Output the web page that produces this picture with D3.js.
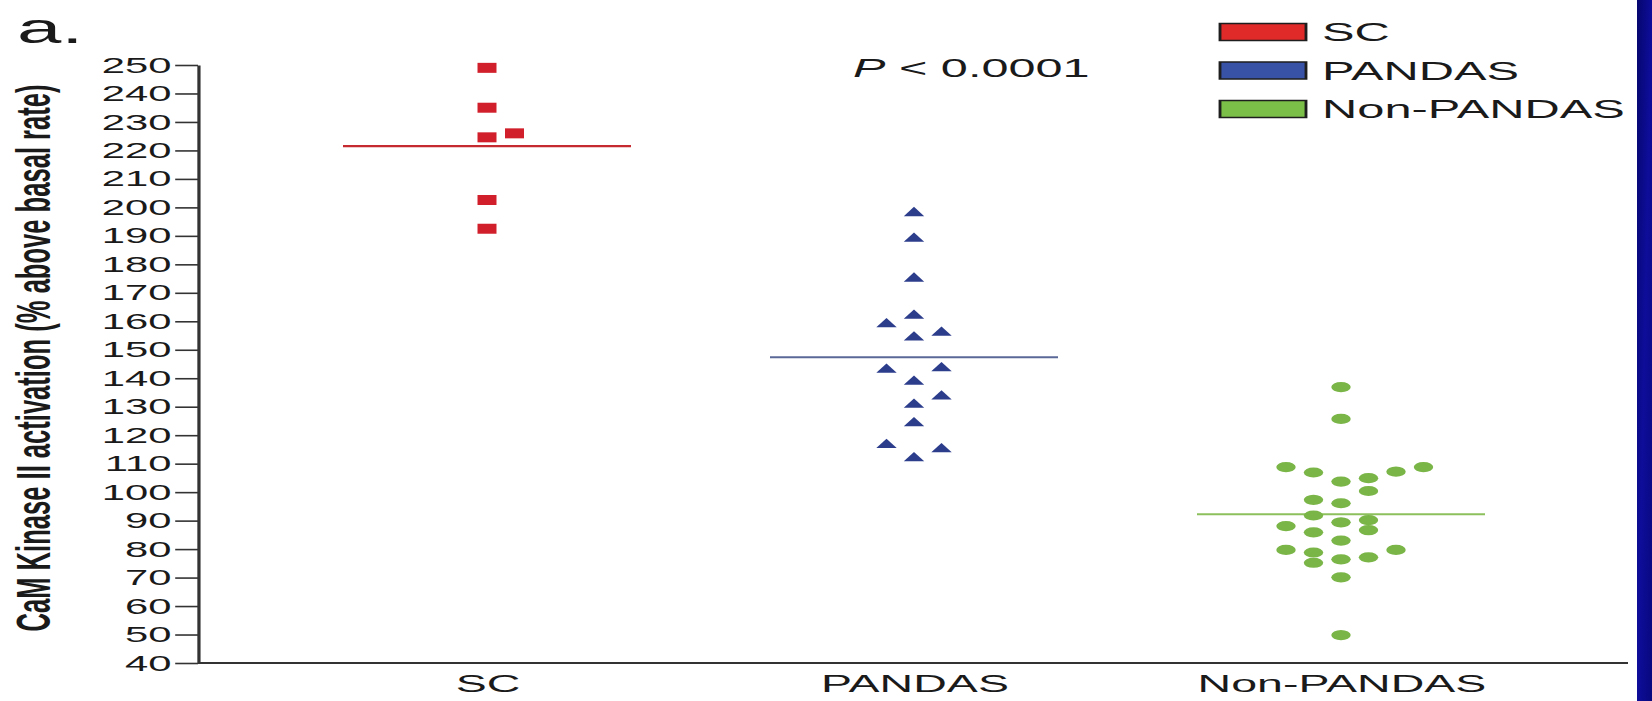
<!DOCTYPE html>
<html><head><meta charset="utf-8">
<script src="https://cdn.jsdelivr.net/npm/d3@7"></script>
<style>html,body{margin:0;padding:0;background:#fff;overflow:hidden}</style>
</head><body>
<svg id="chart" width="1652" height="701"></svg>
<script>
// ---- data ----
const categories = ["SC", "PANDAS", "Non-PANDAS"];
const yTickValues = [40, 50, 60, 70, 80, 90, 100, 110, 120, 130, 140, 150, 160, 170, 180, 190, 200, 210, 220, 230, 240, 250];
const scValues = [249, 235, 224.6, 226, 202.6, 192.5];
const scColumns = [0, 0, 0, 1, 0, 0];
const pandasValues = [198, 189, 175, 162, 159, 156, 154.3, 143, 143.5, 138.8, 133.6, 130.7, 124.2, 116.6, 115.1, 111.9];
const pandasColumns = [0, 0, 0, 0, -1, 1, 0, -1, 1, 0, 1, 0, 0, -1, 1, 0];
const nonPandasValues = [136.9, 125.7, 108.8, 108.8, 106.9, 107.2, 103.7, 104.9, 100.4, 97.3, 96.1, 91.8, 89.4, 90.2, 88.1, 85.9, 86.7, 83, 79.7, 78.8, 79.7, 75.2, 76.4, 77.1, 70.1, 49.8];
const nonPandasColumns = [0, 0, -2, 3, -1, 2, 0, 1, 1, -1, 0, -1, 0, 1, -2, -1, 1, 0, -2, -1, 2, -1, 0, 1, 0, 0];
const meanValues = [221.5, 147.4, 92.2];
const yAxisTitle = "CaM Kinase II activation (% above basal rate)";
const pValueText = "< 0.0001";
const panelLabel = "a.";

// ---- styles ----
const markColors = ["#d1202b", "#2c3d8c", "#7ab547"];
const meanColors = ["#c42a30", "#5a6898", "#8cc05c"];
const meanWidths = [2.4, 2, 2];
const legendColors = ["#e02a2a", "#3853a5", "#7cbf48"];
const FONT = "'Liberation Sans', Arial, Helvetica, sans-serif";
const SX = 1.9; // the whole figure is stretched horizontally

const svg = d3.select("#chart");
svg.append("rect").attr("width", 1652).attr("height", 701).attr("fill", "#ffffff");

// blue slide strip on the right
const defs = svg.append("defs");
const grad = defs.append("linearGradient").attr("id", "strip").attr("x1", 0).attr("y1", 0).attr("x2", 1).attr("y2", 1);
grad.append("stop").attr("offset", "0%").attr("stop-color", "#06066e");
grad.append("stop").attr("offset", "50%").attr("stop-color", "#0d0d9a");
grad.append("stop").attr("offset", "100%").attr("stop-color", "#08087e");
svg.append("rect").attr("x", 1637).attr("y", 0).attr("width", 15).attr("height", 701).attr("fill", "url(#strip)");

const g = svg.append("g").attr("transform", `scale(${SX},1)`);

const x = d3.scalePoint().domain(categories).range([487 / SX, 1341 / SX]);
const y = d3.scaleLinear().domain([40, 250]).range([663, 65]);
const COL = 27.5 / SX;
const axisX = 198 / SX;

// y axis
const yAxis = g.append("g").attr("transform", `translate(${axisX},0)`)
  .call(d3.axisLeft(y).tickValues(yTickValues).tickSize(12).tickPadding(2).tickSizeOuter(0));
yAxis.select(".domain").attr("stroke", "#333").attr("stroke-width", 1.7);
yAxis.selectAll(".tick line").attr("stroke", "#333").attr("stroke-width", 1.6);
yAxis.selectAll(".tick text").attr("font-family", FONT).attr("font-size", 22).attr("fill", "#1a1a1a");

// x axis line
g.append("line").attr("x1", axisX).attr("x2", 1628 / SX).attr("y1", y(40)).attr("y2", y(40))
  .attr("stroke", "#333").attr("stroke-width", 2);
const xAxis = g.append("g").attr("transform", `translate(0,${y(40)})`)
  .call(d3.axisBottom(x).tickSize(0).tickPadding(12));
xAxis.select(".domain").remove();
xAxis.selectAll(".tick text").attr("font-family", FONT).attr("font-size", 24.5).attr("fill", "#1a1a1a");

// mean lines
const halfLen = 144 / SX;
g.selectAll(".mean").data(categories).join("line")
  .attr("x1", d => x(d) - halfLen).attr("x2", d => x(d) + halfLen)
  .attr("y1", (d, i) => y(meanValues[i])).attr("y2", (d, i) => y(meanValues[i]))
  .attr("stroke", (d, i) => meanColors[i]).attr("stroke-width", (d, i) => meanWidths[i]);

// points
const groups = [
  { cat: categories[0], vals: scValues, cols: scColumns, sym: d3.symbolSquare, size: 100 },
  { cat: categories[1], vals: pandasValues, cols: pandasColumns, sym: d3.symbolTriangle, size: 50 },
  { cat: categories[2], vals: nonPandasValues, cols: nonPandasColumns, sym: d3.symbolCircle, size: 82 }
];
groups.forEach((grp, gi) => {
  g.append("g").selectAll("path").data(grp.vals).join("path")
    .attr("d", d3.symbol(grp.sym, grp.size))
    .attr("transform", (v, i) => `translate(${x(grp.cat) + grp.cols[i] * COL},${y(v)})`)
    .attr("fill", markColors[gi]);
});

// legend
const legend = g.append("g");
categories.forEach((c, i) => {
  const cy = 32 + i * 38.5;
  legend.append("rect").attr("x", 1220 / SX).attr("y", cy - 8.5).attr("width", 86 / SX).attr("height", 17)
    .attr("fill", legendColors[i]).attr("stroke", "#1e1e1e").attr("stroke-width", 1.5);
  legend.append("text").attr("x", 1322 / SX).attr("y", cy + 9.2)
    .attr("font-family", FONT).attr("font-size", 25.7).attr("fill", "#1a1a1a").text(c);
});

// P value
const pt = g.append("text").attr("x", 853 / SX).attr("y", 77)
  .attr("font-family", FONT).attr("font-size", 25.6).attr("fill", "#1a1a1a");
pt.append("tspan").attr("font-style", "italic").text("P");
pt.append("tspan").text(" " + pValueText);

// panel label
g.append("text").attr("x", 17 / SX).attr("y", 43).attr("font-family", FONT).attr("font-size", 42)
  .attr("fill", "#1a1a1a").text(panelLabel);

// y axis title
g.append("text").attr("transform", `translate(26.4,358) rotate(-90)`)
  .attr("text-anchor", "middle").attr("font-family", FONT).attr("font-weight", "bold")
  .attr("font-size", 25).attr("fill", "#1a1a1a")
  .attr("textLength", 547).attr("lengthAdjust", "spacingAndGlyphs")
  .text(yAxisTitle);
</script>
</body></html>
